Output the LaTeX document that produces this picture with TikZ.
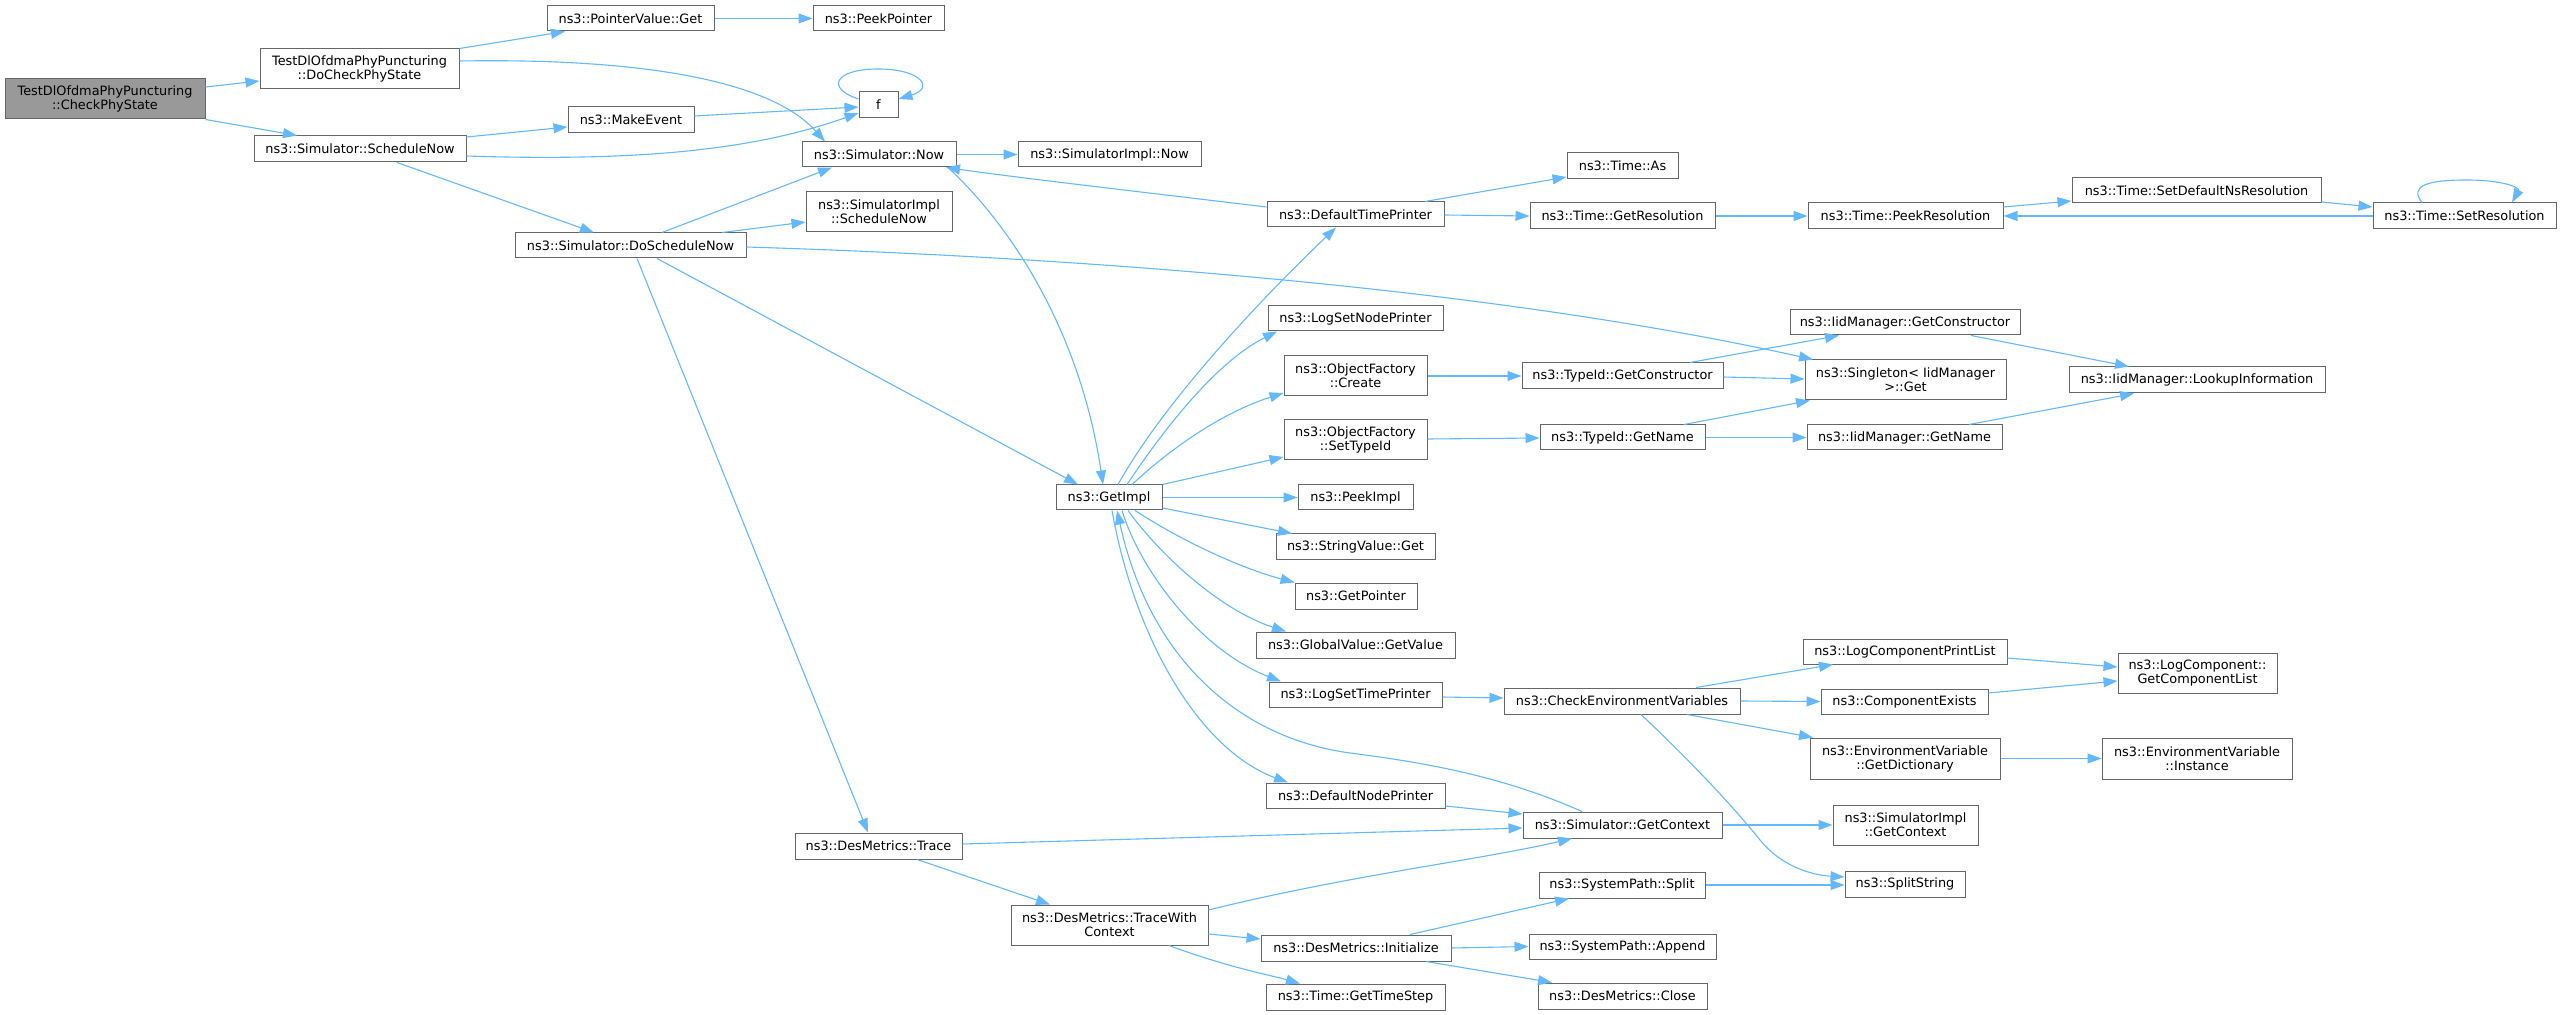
\documentclass[tikz,border=0pt]{standalone}
\usepackage{fontspec}
\setmainfont{DejaVu Sans}
\usetikzlibrary{arrows.meta}
\definecolor{edgec}{HTML}{63B8FF}
\definecolor{bord}{HTML}{666666}
\definecolor{grayfill}{HTML}{999999}
\newcommand\bx[7][]{\node[box,#1,minimum width={(#5-#3)*0.5pt},minimum height={(#6-#4)*0.5pt}] (#2) at ({(#3+#5)/2},{(#4+#6)/2}) {#7};}
\begin{document}
\begin{tikzpicture}[x=0.5pt,y=-0.5pt,
  box/.style={draw=bord,line width=0.5pt,fill=white,inner sep=0pt,align=center,font=\fontsize{6.43}{7}\selectfont},
  edge/.style={draw=edgec,line width=0.55pt,-{Triangle[length=7pt,width=5pt]}}]
\useasboundingbox (0,0) rectangle (2563,1015);
% nodes
\bx[fill=grayfill]{A}{5}{79}{205}{119}{TestDlOfdmaPhyPuncturing\\::CheckPhyState}
\bx{B}{260}{49}{459}{89}{TestDlOfdmaPhyPuncturing\\::DoCheckPhyState}
\bx{C}{547}{6}{714}{31}{ns3::PointerValue::Get}
\bx{D}{813}{6}{944}{31}{ns3::PeekPointer}
\bx{E}{254}{136}{466}{162}{ns3::Simulator::ScheduleNow}
\bx{F}{568}{107}{694}{133}{ns3::MakeEvent}
\bx{G}{859}{92}{898}{118}{f}
\bx{H}{802}{142}{956}{167}{ns3::Simulator::Now}
\bx{I}{1018}{142}{1201}{167}{ns3::SimulatorImpl::Now}
\bx{J}{806}{192}{952}{232}{ns3::SimulatorImpl\\::ScheduleNow}
\bx{K}{515}{233}{746}{258}{ns3::Simulator::DoScheduleNow}
\bx{L}{1267}{202}{1444}{227}{ns3::DefaultTimePrinter}
\bx{M}{1567}{153}{1678}{179}{ns3::Time::As}
\bx{N}{1530}{203}{1715}{229}{ns3::Time::GetResolution}
\bx{O}{1808}{203}{2003}{229}{ns3::Time::PeekResolution}
\bx{P}{2072}{178}{2321}{203}{ns3::Time::SetDefaultNsResolution}
\bx{Q}{2373}{203}{2556}{229}{ns3::Time::SetResolution}
\bx{R}{1790}{310}{2020}{335}{ns3::IidManager::GetConstructor}
\bx{S}{1805}{360}{2006}{400}{ns3::Singleton< IidManager\\>::Get}
\bx{T}{2069}{367}{2325}{393}{ns3::IidManager::LookupInformation}
\bx{U}{1522}{363}{1723}{389}{ns3::TypeId::GetConstructor}
\bx{V}{1268}{306}{1443}{331}{ns3::LogSetNodePrinter}
\bx{W}{1284}{356}{1427}{396}{ns3::ObjectFactory\\::Create}
\bx{X}{1284}{420}{1427}{460}{ns3::ObjectFactory\\::SetTypeId}
\bx{Y}{1540}{425}{1705}{450}{ns3::TypeId::GetName}
\bx{Z}{1807}{425}{2002}{450}{ns3::IidManager::GetName}
\bx{GI}{1056}{485}{1162}{510}{ns3::GetImpl}
\bx{PI}{1298}{485}{1413}{510}{ns3::PeekImpl}
\bx{SV}{1276}{534}{1435}{559}{ns3::StringValue::Get}
\bx{GP}{1295}{583}{1417}{609}{ns3::GetPointer}
\bx{GV}{1256}{632}{1455}{658}{ns3::GlobalValue::GetValue}
\bx{LT}{1269}{682}{1442}{707}{ns3::LogSetTimePrinter}
\bx{CE}{1504}{688}{1740}{714}{ns3::CheckEnvironmentVariables}
\bx{LP}{1803}{639}{2007}{664}{ns3::LogComponentPrintList}
\bx{CX}{1821}{689}{1988}{714}{ns3::ComponentExists}
\bx{GC}{2118}{653}{2277}{693}{ns3::LogComponent::\\GetComponentList}
\bx{ED}{1810}{738}{2000}{779}{ns3::EnvironmentVariable\\::GetDictionary}
\bx{EI}{2102}{738}{2292}{779}{ns3::EnvironmentVariable\\::Instance}
\bx{DN}{1266}{783}{1445}{808}{ns3::DefaultNodePrinter}
\bx{SC}{1523}{812}{1722}{838}{ns3::Simulator::GetContext}
\bx{SIC}{1833}{805}{1978}{845}{ns3::SimulatorImpl\\::GetContext}
\bx{SS}{1845}{871}{1965}{897}{ns3::SplitString}
\bx{SP}{1539}{872}{1705}{898}{ns3::SystemPath::Split}
\bx{DT}{795}{833}{962}{859}{ns3::DesMetrics::Trace}
\bx{TW}{1011}{905}{1208}{945}{ns3::DesMetrics::TraceWith\\Context}
\bx{DI}{1261}{935}{1451}{961}{ns3::DesMetrics::Initialize}
\bx{SA}{1529}{934}{1716}{959}{ns3::SystemPath::Append}
\bx{DC}{1538}{983}{1707}{1009}{ns3::DesMetrics::Close}
\bx{TS}{1266}{984}{1445}{1010}{ns3::Time::GetTimeStep}
% edges
\draw[edge] (A.east |- 0,87) -- (B.west |- 0,81);
\draw[edge] (A.south east) -- (E.north -| 297,0);
\draw[edge] (B.north east) -- (C.south -| 565,0);
\draw[edge] (B.east |- 0,61) .. controls (640,58) and (770,80) .. (H.north -| 825,0);
\draw[edge] (C.east) -- (D.west);
\draw[edge] (E.east |- 0,137) -- (F.west |- 0,127);
\draw[edge] (E.east |- 0,156) .. controls (650,162) and (760,148) .. (G.west |- 0,113);
\draw[edge] (E.south -| 397,0) -- (K.north -| 594,0);
\draw[edge] (F.east |- 0,116) -- (G.west |- 0,107);
\draw[edge] (G.west |- 0,99) .. controls (825,88) and (835,69) .. (878,69) .. controls (921,69) and (935,88) .. (G.east |- 0,99);
\draw[edge] (K.north -| 662,0) -- (H.south -| 832,0);
\draw[edge] (K.north -| 722,0) -- (J.west |- 0,222);
\draw[edge] (K.east |- 0,247) .. controls (1100,258) and (1500,290) .. (S.north -| 1813,0);
\draw[edge] (K.south -| 657,0) -- (GI.north -| 1078,0);
\draw[edge] (K.south -| 637,0) -- (DT.north -| 868,0);
\draw[edge] (H.east) -- (I.west);
\draw[edge] (H.south -| 948,0) .. controls (1010,225) and (1080,330) .. (GI.north -| 1103,0);
\draw[edge] (GI.north -| 1118,0) .. controls (1165,400) and (1265,295) .. (L.south -| 1336,0);
\draw[edge] (GI.north -| 1127,0) .. controls (1170,420) and (1220,360) .. (V.south -| 1277,0);
\draw[edge] (GI.north -| 1132,0) .. controls (1180,440) and (1230,410) .. (W.west |- 0,393);
\draw[edge] (GI.north east) -- (X.west |- 0,457);
\draw[edge] (GI.east) -- (PI.west);
\draw[edge] (GI.east |- 0,508) -- (SV.north -| 1292,0);
\draw[edge] (GI.south -| 1135,0) .. controls (1180,540) and (1240,568) .. (GP.north west);
\draw[edge] (GI.south -| 1128,0) .. controls (1160,555) and (1220,610) .. (GV.north -| 1286,0);
\draw[edge] (GI.south -| 1122,0) .. controls (1140,570) and (1200,650) .. (LT.north -| 1281,0);
\draw[edge] (GI.south -| 1112,0) .. controls (1135,640) and (1200,750) .. (DN.north -| 1288,0);
\draw[edge] (SC.north -| 1582,0) .. controls (1500,775) and (1420,762) .. (1350,753) .. controls (1240,738) and (1150,660) .. (GI.south -| 1117,0);
\draw[edge] (L.west |- 0,207) .. controls (1150,193) and (1020,178) .. (H.south -| 946,0);
\draw[edge] (L.north -| 1425,0) -- (M.west |- 0,177);
\draw[edge] (L.east |- 0,215) -- (N.west |- 0,216);
\draw[edge] (N.east) -- (O.west);
\draw[edge] (O.east |- 0,207) -- (P.west |- 0,201);
\draw[edge] (P.east |- 0,202) -- (Q.west |- 0,207);
\draw[edge] (Q.west |- 0,216) -- (O.east |- 0,216);
\draw[edge] (Q.north -| 2422,0) .. controls (2408,185) and (2430,180) .. (2466,180) .. controls (2505,180) and (2520,188) .. (Q.north -| 2512,0);
\draw[edge] (W.east |- 0,376) -- (U.west |- 0,376);
\draw[edge] (U.north -| 1690,0) -- (R.south -| 1839,0);
\draw[edge] (U.east |- 0,377) -- (S.west |- 0,379);
\draw[edge] (R.south -| 1971,0) -- (T.north -| 2129,0);
\draw[edge] (X.east |- 0,439) -- (Y.west |- 0,438);
\draw[edge] (Y.north -| 1684,0) -- (S.south -| 1810,0);
\draw[edge] (Y.east) -- (Z.west);
\draw[edge] (Z.north -| 1969,0) -- (T.south -| 2134,0);
\draw[edge] (LT.east |- 0,697) -- (CE.west |- 0,698);
\draw[edge] (CE.north -| 1696,0) -- (LP.south -| 1833,0);
\draw[edge] (CE.east) -- (CX.west);
\draw[edge] (CE.south -| 1687,0) -- (ED.north -| 1813,0);
\draw[edge] (CE.south -| 1641,0) .. controls (1700,770) and (1740,815) .. (1760,840) .. controls (1780,865) and (1810,875) .. (SS.west |- 0,877);
\draw[edge] (LP.east |- 0,658) -- (GC.west |- 0,667);
\draw[edge] (CX.east |- 0,693) -- (GC.west |- 0,681);
\draw[edge] (ED.east) -- (EI.west);
\draw[edge] (DN.east |- 0,806) -- (SC.west |- 0,814);
\draw[edge] (DT.east |- 0,844) -- (SC.west |- 0,828);
\draw[edge] (DT.south -| 917,0) -- (TW.north -| 1050,0);
\draw[edge] (TW.east |- 0,910) .. controls (1350,875) and (1480,860) .. (SC.south -| 1572,0);
\draw[edge] (TW.east |- 0,934) -- (DI.west |- 0,939);
\draw[edge] (TW.south -| 1169,0) .. controls (1230,968) and (1270,975) .. (TS.north -| 1300,0);
\draw[edge] (DI.north -| 1410,0) -- (SP.south -| 1569,0);
\draw[edge] (DI.east) -- (SA.west);
\draw[edge] (DI.south -| 1426,0) -- (DC.north -| 1552,0);
\draw[edge] (SP.east) -- (SS.west |- 0,885);
\draw[edge] (SC.east) -- (SIC.west);
\end{tikzpicture}
\end{document}
